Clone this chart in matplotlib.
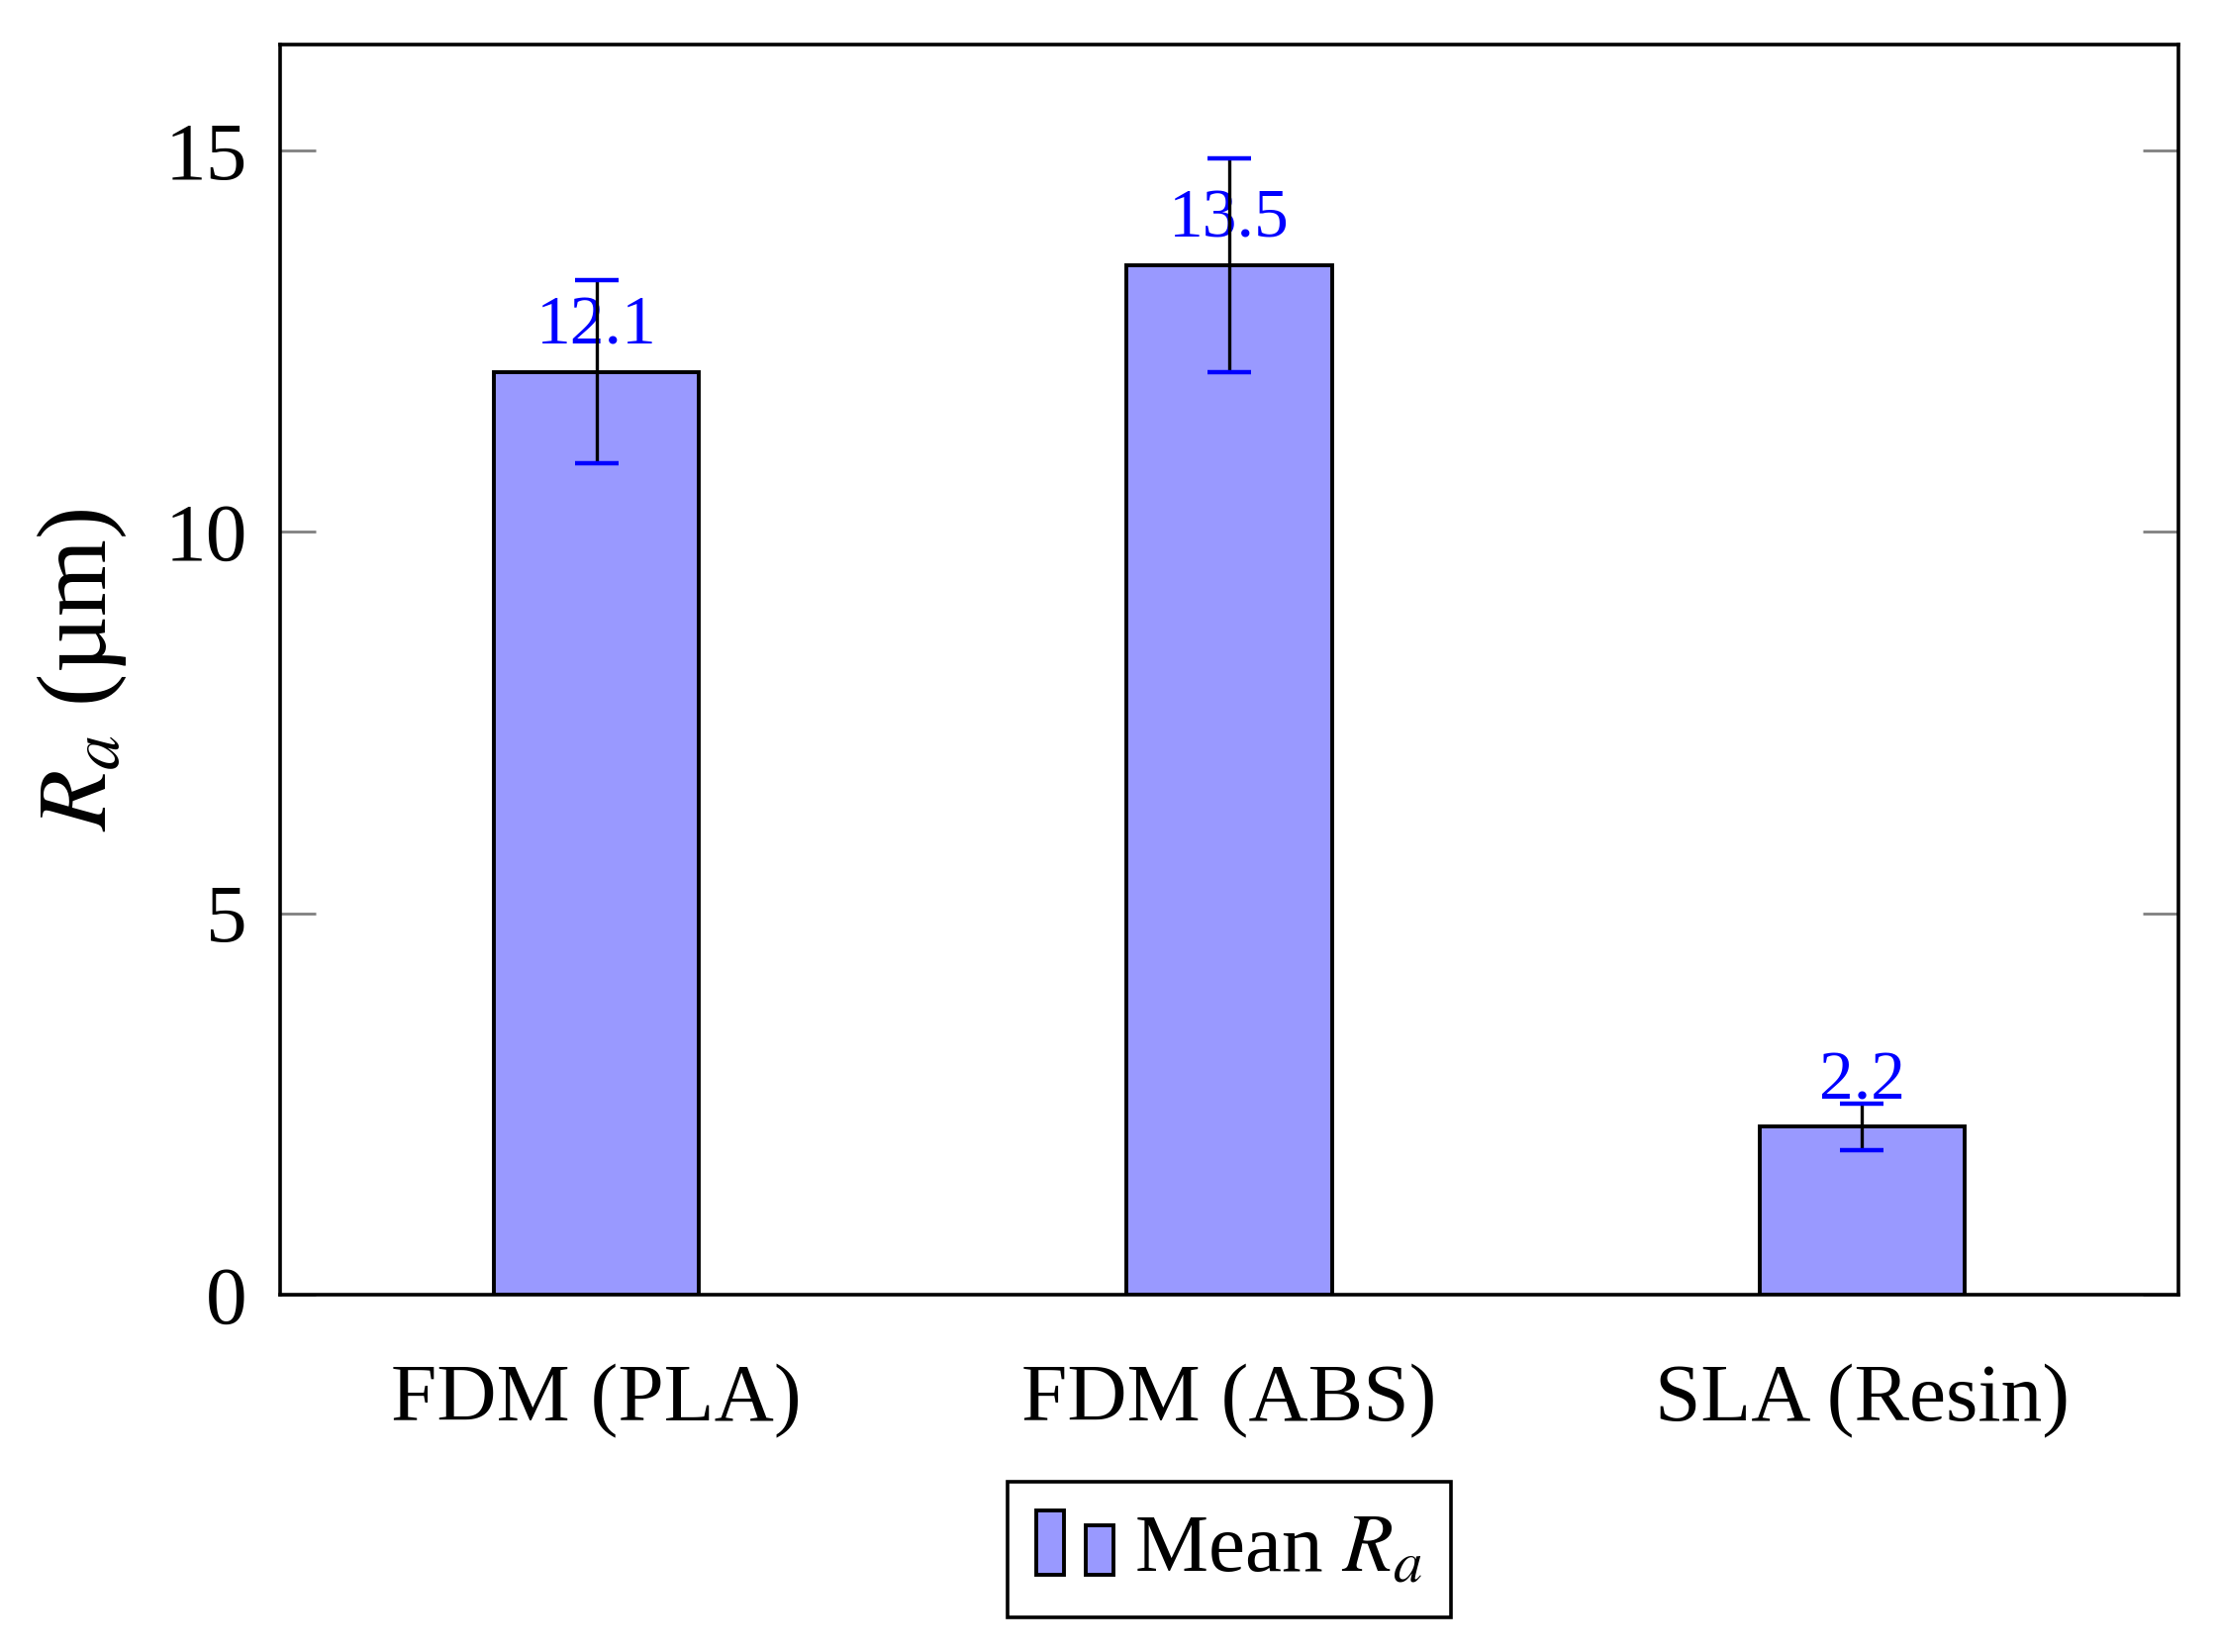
import matplotlib
matplotlib.use("Agg")
import matplotlib.pyplot as plt
from matplotlib.legend_handler import HandlerBase
from matplotlib.patches import Rectangle
import numpy as np

# Surface roughness data
processes = ["FDM (PLA)", "FDM (ABS)", "SLA (Resin)"]
mean_ra = [12.1, 13.5, 2.2]
std_ra = [1.2, 1.4, 0.3]
y_ticks = [0, 5, 10, 15]

BAR_COLOR = "#9999ff"

plt.rcParams["font.family"] = ["Liberation Serif", "DejaVu Serif"]
plt.rcParams["mathtext.fontset"] = "stix"


# Legend image like pgfplots ybar: two small bars
class TwoBarHandler(HandlerBase):
    def create_artists(self, legend, orig_handle, xdescent, ydescent,
                       width, height, fontsize, trans):
        w = 0.36 * width
        r1 = Rectangle((-xdescent, -ydescent), w, height,
                       facecolor=BAR_COLOR, edgecolor="black", linewidth=1.4,
                       transform=trans)
        r2 = Rectangle((-xdescent + width - w, -ydescent), w, 0.76 * height,
                       facecolor=BAR_COLOR, edgecolor="black", linewidth=1.4,
                       transform=trans)
        return [r1, r2]


fig = plt.figure(figsize=(2243 / 200, 1669 / 200), dpi=200)
ax = fig.add_axes([0.1262, 0.2163, 0.9813 - 0.1262, 0.973 - 0.2163])

x = np.arange(len(processes))
bars = ax.bar(x, mean_ra, width=0.324, color=BAR_COLOR, edgecolor="black",
              linewidth=1.4, zorder=2, label="Mean $R_a$")

eb = ax.errorbar(x, mean_ra, yerr=std_ra, fmt="none", ecolor="black",
                 elinewidth=1.2, capsize=8, capthick=1.6, zorder=4)
# caps are blue in the original
for cap in eb[1]:
    cap.set_color("blue")
    cap.set_markeredgecolor("blue")

# value labels above bars
for xi, v in zip(x, mean_ra):
    ax.annotate(f"{v:.1f}", (xi, v), xytext=(0, 10), textcoords="offset points",
                ha="center", va="baseline", color="blue", fontsize=25, zorder=3)

ax.set_xlim(-0.5, len(processes) - 0.5)
ax.set_ylim(0, 14.9 * 1.1)
ax.set_xticks(x)
ax.set_xticklabels(processes, fontsize=30)
ax.set_yticks(y_ticks)
ax.set_yticklabels([str(t) for t in y_ticks], fontsize=30)
ax.tick_params(axis="x", length=0, pad=25)
ax.tick_params(axis="y", direction="in", length=13, width=1, color="gray",
               right=True, pad=12)

for sp in ax.spines.values():
    sp.set_linewidth(1.3)

ax.set_ylabel("$R_a$ (µm)", fontsize=36)
ax.yaxis.set_label_coords(-0.08, 0.5)

axes_cx = (0.1262 + 0.9813) / 2
leg = fig.legend(handles=[bars], labels=["Mean $R_a$"], loc="center",
                 bbox_to_anchor=(axes_cx, 0.062), bbox_transform=fig.transFigure,
                 fontsize=30, fancybox=False, edgecolor="black", framealpha=1,
                 handler_map={type(bars): TwoBarHandler()},
                 handlelength=0.93, handleheight=0.82, handletextpad=0.25,
                 borderpad=0.35)
leg.get_frame().set_linewidth(1.3)

fig.savefig("out.png", dpi=200)
